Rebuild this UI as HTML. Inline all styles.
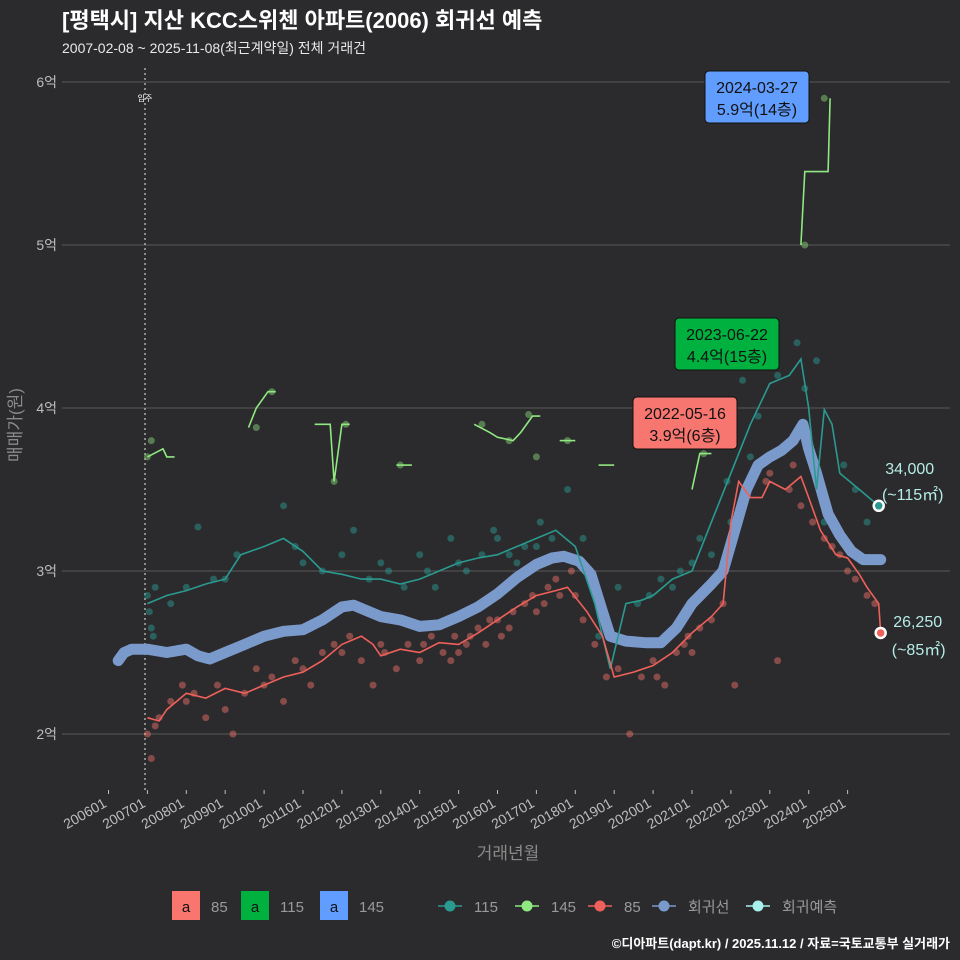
<!DOCTYPE html>
<html><head><meta charset="utf-8"><style>
body{margin:0;background:#2b2b2d;}
svg{display:block;font-family:"Liberation Sans","Noto Sans CJK KR",sans-serif;}
</style></head><body>
<svg id="c" width="960" height="960" viewBox="0 0 960 960">
<rect x="0" y="0" width="960" height="960" fill="#2b2b2d"/>
<text x="62" y="28" fill="#ffffff" font-size="22" font-weight="bold">[평택시] 지산 KCC스위첸 아파트(2006) 회귀선 예측</text>
<text x="62" y="53" fill="#e8e8e8" font-size="14">2007-02-08 ~ 2025-11-08(최근계약일) 전체 거래건</text>
<g id="grid"></g>
<g id="yaxis"></g>
<g id="xaxis"></g>
<text transform="translate(21,425) rotate(-90)" text-anchor="middle" fill="#8a8a8a" font-size="17">매매가(원)</text>
<text x="508" y="859" text-anchor="middle" fill="#8a8a8a" font-size="17">거래년월</text>
<g id="marks"></g>
<g id="legend"></g>
<text x="950" y="948" text-anchor="end" fill="#ffffff" font-size="13" font-weight="bold">©디아파트(dapt.kr) / 2025.11.12 / 자료=국토교통부 실거래가</text>
</svg>
<script>
const yTicks=[2,3,4,5,6];
const yTickLabels=['2억','3억','4억','5억','6억'];
const xTickYears=[2006,2007,2008,2009,2010,2011,2012,2013,2014,2015,2016,2017,2018,2019,2020,2021,2022,2023,2024,2025];
const regYears=[2006.25,2006.4,2006.6,2007,2007.5,2008,2008.3,2008.6,2009,2009.5,2010,2010.5,2011,2011.5,2012,2012.3,2012.6,2013,2013.5,2014,2014.5,2015,2015.5,2016,2016.5,2017,2017.4,2017.7,2018.1,2018.4,2018.7,2018.9,2019.3,2019.8,2020.2,2020.6,2021,2021.5,2021.8,2022.1,2022.4,2022.7,2023,2023.3,2023.6,2023.85,2024.0,2024.2,2024.5,2024.8,2025.1,2025.4,2025.85];
const regVals=[2.45,2.5,2.52,2.52,2.5,2.52,2.48,2.46,2.5,2.55,2.6,2.63,2.64,2.7,2.78,2.79,2.76,2.72,2.7,2.66,2.67,2.72,2.78,2.86,2.96,3.04,3.08,3.09,3.06,2.98,2.75,2.6,2.57,2.56,2.56,2.65,2.8,2.92,3.0,3.25,3.5,3.65,3.7,3.74,3.8,3.9,3.75,3.6,3.35,3.22,3.12,3.07,3.07];
const s85Years=[2007.0,2007.3,2007.5,2008,2008.5,2009,2009.5,2010,2010.5,2011,2011.5,2012,2012.5,2012.8,2013,2013.5,2014,2014.5,2015,2015.5,2016,2016.5,2017,2017.5,2017.8,2018.3,2018.7,2019,2019.5,2020,2020.5,2021,2021.5,2021.8,2022,2022.2,2022.5,2022.8,2023,2023.4,2023.8,2024.0,2024.3,2024.7,2025,2025.3,2025.5,2025.8,2025.85];
const s85Vals=[2.1,2.08,2.15,2.25,2.22,2.28,2.25,2.3,2.35,2.38,2.45,2.55,2.6,2.55,2.48,2.52,2.5,2.56,2.55,2.62,2.7,2.78,2.85,2.88,2.9,2.75,2.6,2.35,2.38,2.42,2.5,2.62,2.72,2.8,3.3,3.55,3.45,3.45,3.55,3.5,3.58,3.45,3.25,3.1,3.08,2.98,2.9,2.8,2.62];
const s115Years=[2007.0,2007.5,2008,2008.5,2009,2009.4,2010,2010.5,2011,2011.5,2012,2012.5,2013,2013.5,2014,2014.5,2015,2015.5,2016,2016.5,2017,2017.5,2018,2018.5,2018.9,2019.3,2019.7,2020,2020.5,2021,2021.5,2022,2022.5,2023,2023.5,2023.8,2024,2024.2,2024.4,2024.6,2024.8,2025.3,2025.8];
const s115Vals=[2.8,2.85,2.88,2.92,2.95,3.1,3.15,3.2,3.12,3.0,2.98,2.95,2.95,2.92,2.95,3.0,3.05,3.08,3.1,3.15,3.2,3.25,3.15,2.8,2.4,2.8,2.82,2.85,2.95,3.0,3.3,3.6,3.9,4.15,4.2,4.3,4.0,3.5,3.99,3.9,3.6,3.5,3.4];
const s145Segs=[[[2007.0,3.7],[2007.4,3.75],[2007.5,3.7],[2007.7,3.7]],[[2009.6,3.88],[2009.8,4.0],[2010.1,4.1],[2010.3,4.1]],[[2011.3,3.9],[2011.7,3.9],[2011.8,3.55],[2012.0,3.9],[2012.2,3.9]],[[2013.4,3.65],[2013.8,3.65]],[[2015.4,3.9],[2015.8,3.85],[2016.0,3.82],[2016.4,3.8],[2016.6,3.85],[2016.9,3.95],[2017.1,3.95]],[[2017.6,3.8],[2018.0,3.8]],[[2018.6,3.65],[2019.0,3.65]],[[2021.0,3.5],[2021.2,3.72],[2021.5,3.72]],[[2023.8,5.0],[2023.9,5.45],[2024.5,5.45],[2024.55,5.9]]];
const pts85=[[2007.0,2.0],[2007.1,1.85],[2007.2,2.05],[2007.3,2.1],[2007.6,2.2],[2007.9,2.3],[2008.2,2.25],[2008.5,2.1],[2008.8,2.3],[2009.2,2.0],[2009.5,2.25],[2009.8,2.4],[2010.2,2.35],[2010.5,2.2],[2010.8,2.45],[2011.2,2.3],[2011.5,2.5],[2011.8,2.55],[2012.2,2.6],[2012.5,2.45],[2012.8,2.3],[2013.1,2.5],[2013.4,2.4],[2013.7,2.55],[2014.0,2.45],[2014.3,2.6],[2014.6,2.5],[2014.9,2.6],[2015.2,2.55],[2015.5,2.65],[2015.8,2.7],[2016.1,2.6],[2016.4,2.75],[2016.7,2.8],[2017.0,2.75],[2017.3,2.9],[2017.6,2.85],[2017.9,3.0],[2018.2,2.7],[2018.5,2.55],[2018.8,2.35],[2019.1,2.4],[2019.4,2.0],[2019.7,2.35],[2020.0,2.45],[2020.3,2.3],[2020.6,2.5],[2020.9,2.6],[2021.2,2.65],[2021.5,2.7],[2021.8,2.8],[2022.1,2.3],[2022.3,3.4],[2022.6,3.6],[2022.9,3.55],[2023.2,2.45],[2023.5,3.5],[2023.8,3.4],[2024.1,3.3],[2024.4,3.2],[2024.8,3.1],[2025.2,2.95],[2025.5,2.85],[2025.7,2.8],[2008.0,2.2],[2009.0,2.15],[2010.0,2.3],[2011.0,2.4],[2012.0,2.5],[2013.0,2.55],[2014.1,2.55],[2014.8,2.45],[2015.0,2.5],[2015.3,2.6],[2015.7,2.55],[2016.0,2.7],[2016.3,2.65],[2016.9,2.85],[2017.2,2.8],[2017.5,2.95],[2018.0,2.85],[2020.1,2.35],[2020.8,2.55],[2021.0,2.5],[2022.4,3.5],[2023.0,3.6],[2023.6,3.65],[2024.6,3.15],[2025.0,3.0]];
const pts115=[[2007.0,2.85],[2007.1,2.65],[2007.2,2.9],[2007.6,2.8],[2008.3,3.27],[2008.7,2.95],[2009.3,3.1],[2010.5,3.4],[2010.8,3.15],[2011.5,3.0],[2012.0,3.1],[2012.3,3.25],[2012.7,2.95],[2013.2,3.0],[2013.6,2.9],[2014.0,3.1],[2014.4,2.9],[2014.8,3.2],[2015.2,3.0],[2015.6,3.1],[2015.9,3.25],[2016.3,3.1],[2016.7,3.15],[2017.1,3.3],[2017.4,3.2],[2017.8,3.5],[2018.2,3.2],[2018.6,2.6],[2019.1,2.9],[2019.6,2.8],[2020.2,2.95],[2020.7,3.0],[2021.2,3.2],[2021.5,3.1],[2021.9,3.55],[2022.3,4.17],[2022.7,3.95],[2023.2,4.2],[2023.7,4.4],[2023.9,4.12],[2024.2,4.29],[2024.4,3.3],[2024.9,3.65],[2025.2,3.5],[2025.5,3.3],[2007.05,2.75],[2007.15,2.6],[2008.0,2.9],[2009.0,2.95],[2011.0,3.05],[2013.0,3.05],[2014.2,3.0],[2015.0,3.05],[2016.0,3.2],[2016.5,3.05],[2017.0,3.15],[2019.9,2.85],[2020.5,2.9],[2021.0,3.05],[2022.0,3.3],[2022.5,3.7]];
const pts145=[[2007.0,3.7],[2007.1,3.8],[2009.8,3.88],[2010.2,4.1],[2011.8,3.55],[2012.1,3.9],[2013.5,3.65],[2015.6,3.9],[2016.3,3.8],[2016.8,3.96],[2017.0,3.7],[2017.8,3.8],[2021.3,3.72],[2023.9,5.0],[2024.4,5.9]];
const callouts=[{x:2022.37,y:3.9,d:'2022-05-16',t:'3.9억(6층)',c:'#f87670',bx:633,by:397},{x:2023.47,y:4.4,d:'2023-06-22',t:'4.4억(15층)',c:'#00b140',bx:675,by:318},{x:2024.24,y:5.9,d:'2024-03-27',t:'5.9억(14층)',c:'#619cff',bx:705,by:71}];

const X=y=>108.5+(y-2006)*38.9;
const Y=v=>734-(v-2)*163;
const NS='http://www.w3.org/2000/svg';
function mk(tag,parent,attrs){const e=document.createElementNS(NS,tag);for(const k in attrs)e.setAttribute(k,attrs[k]);document.getElementById(parent).appendChild(e);return e;}
function path(xs,vs){return xs.map((x,i)=>(i?'L':'M')+X(x).toFixed(1)+','+Y(vs[i]).toFixed(1)).join('');}

yTicks.forEach((t,i)=>{
 const l=mk('line','grid',{x1:62,x2:950,y1:Y(t),y2:Y(t),stroke:'#585858','stroke-width':1});
 
 
 const tx=mk('text','yaxis',{x:57,y:Y(t)+5,'text-anchor':'end',fill:'#bdbdbd','font-size':14});
 tx.textContent=yTickLabels[i];
 
 
});
xTickYears.forEach(yr=>{
 const l=mk('line','xaxis',{x1:X(yr),x2:X(yr),y1:790,y2:794,stroke:'#bdbdbd'});
 
 
 const tx=mk('text','xaxis',{transform:`translate(${X(yr)-1},806) rotate(-30)`,'text-anchor':'end',fill:'#bdbdbd','font-size':14});
 tx.textContent=yr+'01';
 
 
});
const vl=mk('line','marks',{x1:145,x2:145,y1:68,y2:790,stroke:'#cccccc','stroke-dasharray':'2,3','stroke-width':1.2});


const vt=mk('text','marks',{x:145,y:101,'text-anchor':'middle',fill:'#fff','font-size':8});
vt.textContent='입주';



[[pts85,'#f8766d'],[pts115,'#2aa198'],[pts145,'#8ee07e']].forEach(([arr,c])=>arr.forEach(p=>{
 const e=mk('circle','marks',{cx:X(p[0]),cy:Y(p[1]),r:3.5,fill:c,'fill-opacity':0.45});
 
 
}));
let e=mk('path','marks',{d:path(regYears,regVals),fill:'none',stroke:'#7b9acc','stroke-width':11,'stroke-linejoin':'round','stroke-linecap':'round'});


e=mk('path','marks',{d:path(s115Years,s115Vals),fill:'none',stroke:'#2a9a90','stroke-width':1.6});


e=mk('path','marks',{d:path(s85Years,s85Vals),fill:'none',stroke:'#f0605a','stroke-width':1.6});


s145Segs.forEach(seg=>{
 const s=mk('path','marks',{d:path(seg.map(p=>p[0]),seg.map(p=>p[1])),fill:'none',stroke:'#90e880','stroke-width':1.6});
 
 
});
callouts.forEach(c=>{
 const b=mk('rect','marks',{x:c.bx,y:c.by,width:104,height:52,rx:4,fill:c.c,stroke:'#111','stroke-width':1});
 
 
 const t1=mk('text','marks',{x:c.bx+52,y:c.by+22,'text-anchor':'middle',fill:'#111','font-size':16});
 t1.textContent=c.d;
 
 
 const t2=mk('text','marks',{x:c.bx+52,y:c.by+44,'text-anchor':'middle',fill:'#111','font-size':16});
 t2.textContent=c.t;
 
 
});
[[s115Years,s115Vals,'#2a9a90','34,000','(~115㎡)',-32,-6,31,34],[s85Years,s85Vals,'#f0605a','26,250','(~85㎡)',-6,22,37,38]].forEach(([xs,vs,c,a,b,dy1,dy2,dx1,dx2])=>{
 const n=xs.length-1,cx=X(xs[n]),cy=Y(vs[n]);
 const d=mk('circle','marks',{cx:cx,cy:cy,r:5,fill:c,stroke:'#fff','stroke-width':2.5});
 
 
 const t1=mk('text','marks',{x:cx+dx1,y:cy+dy1,'text-anchor':'middle',fill:'#b5ece6','font-size':16});
 t1.textContent=a;
 
 
 const t2=mk('text','marks',{x:cx+dx2,y:cy+dy2,'text-anchor':'middle',fill:'#b5ece6','font-size':16});
 t2.textContent=b;
 
 
});
[['#f8766d','85',172],['#00b140','115',241],['#619cff','145',320]].forEach(([c,l,x])=>{
 const r=mk('rect','legend',{x:x,y:891,width:28,height:29,fill:c});
 
 
 const a=mk('text','legend',{x:x+14,y:912,'text-anchor':'middle',fill:'#111','font-size':15});
 a.textContent='a';
 
 
 const t=mk('text','legend',{x:x+39,y:912,fill:'#9a9a9a','font-size':15});
 t.textContent=l;
 
 
});
[['#2a9a90','115',450],['#90e880','145',527],['#f0605a','85',600],['#7b9acc','회귀선',664],['#a8f0ec','회귀예측',758]].forEach(([c,l,x])=>{
 const ln=mk('line','legend',{x1:x-12,x2:x+12,y1:906,y2:906,stroke:c,'stroke-width':1.5});
 
 
 const d=mk('circle','legend',{cx:x,cy:906,r:5.5,fill:c});
 
 
 const t=mk('text','legend',{x:x+24,y:912,fill:'#9a9a9a','font-size':15});
 t.textContent=l;
 
 
});
</script>
</body></html>
